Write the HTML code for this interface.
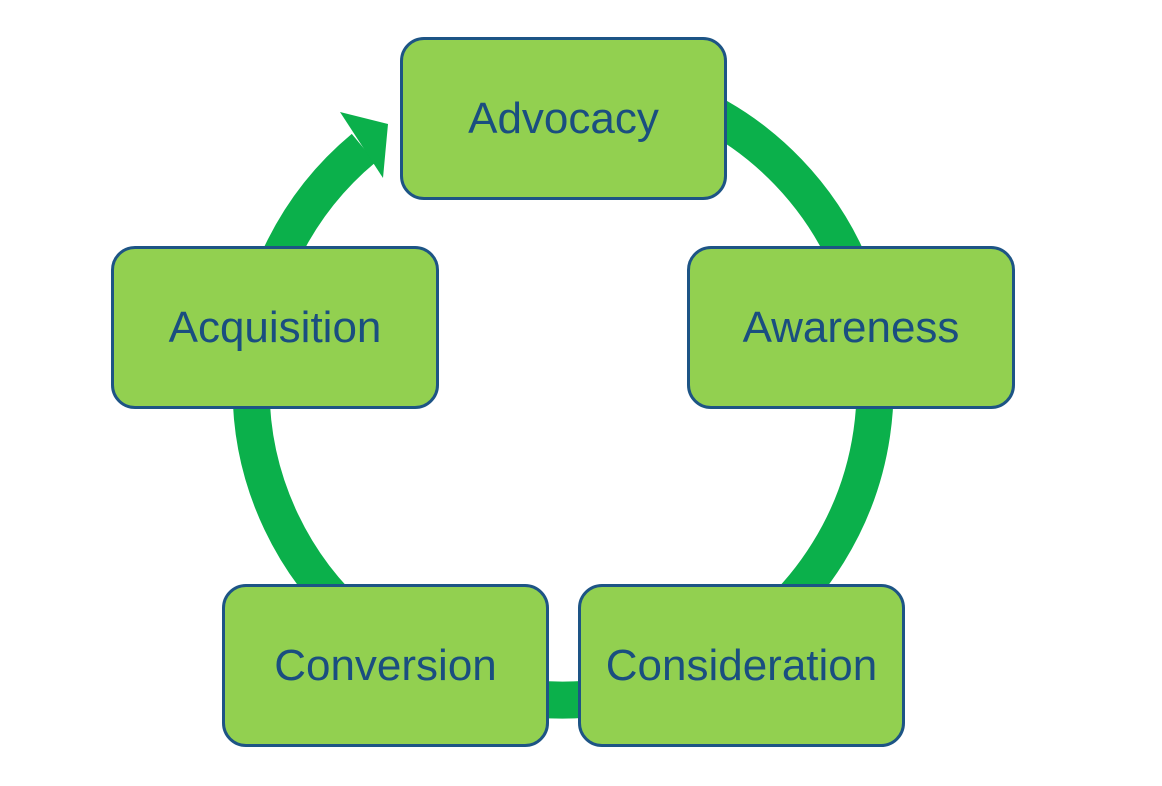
<!DOCTYPE html>
<html><head><meta charset="utf-8"><style>
html,body{margin:0;padding:0;background:#fff;}
.b{position:absolute;box-sizing:border-box;background:#92d050;border:3px solid #1d5485;border-radius:24px;display:flex;align-items:center;justify-content:center;font-family:"Liberation Sans",sans-serif;font-size:44px;color:#1a4e80;}
</style></head><body>
<div style="position:relative;width:1162px;height:786px;overflow:hidden">
<svg width="1162" height="786" style="position:absolute;left:0;top:0">
<path d="M363.6 148.1 A312 312 0 1 0 683 100" fill="none" stroke="#0bb04b" stroke-width="37"/>
<polygon points="340,112 388,124 383,178" fill="#0bb04b"/>
</svg>
<div class="b" style="left:400px;top:37px;width:327px;height:163px">Advocacy</div>
<div class="b" style="left:687px;top:246px;width:328px;height:163px">Awareness</div>
<div class="b" style="left:111px;top:246px;width:328px;height:163px">Acquisition</div>
<div class="b" style="left:222px;top:584px;width:327px;height:163px">Conversion</div>
<div class="b" style="left:578px;top:584px;width:327px;height:163px">Consideration</div>
</div>
</body></html>
